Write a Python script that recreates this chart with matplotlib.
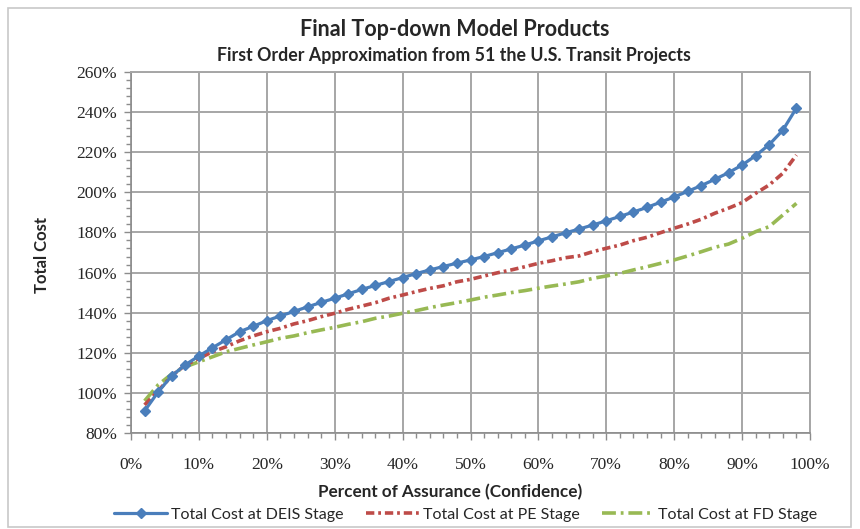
import matplotlib
matplotlib.use("Agg")
import matplotlib.pyplot as plt
from matplotlib.ticker import MultipleLocator, FuncFormatter
from matplotlib.patches import Rectangle

plt.rcParams['lines.scale_dashes'] = False

confidence = list(range(2, 100, 2))
deis = [91, 100.5, 108.5, 114, 118.4, 122.5, 126.5, 130.5, 133.2, 136,
        138.4, 140.6, 142.9, 145.1, 147.2, 149.4, 151.6, 153.6, 155.5, 157.5,
        159.5, 161.3, 163, 164.7, 166.3, 168, 169.9, 171.8, 173.7, 175.8,
        177.8, 179.8, 181.7, 183.7, 185.8, 188, 190.2, 192.5, 195.1, 197.7,
        200.5, 203.4, 206.5, 209.8, 213.6, 218.3, 223.8, 231, 242]
pe = [94, 101, 108.5, 113.9, 117.2, 120.5, 123, 126, 128.4, 130.5,
      132.2, 134.4, 136, 138, 139.7, 141.7, 143.3, 145, 147.2, 148.8,
      150.5, 152.1, 153.4, 155.4, 156.6, 158.3, 159.9, 161.3, 162.9, 164.6,
      165.9, 167.4, 168.3, 170.4, 172.1, 173.7, 175.9, 177.6, 179.9, 182.1,
      184.2, 186.6, 189.6, 192.1, 194.9, 199.5, 203.7, 209.5, 218.6]
fd = [96, 104, 109.4, 113, 115.5, 118, 120.5, 122.2, 123.9, 125.5,
      127.2, 128.4, 130, 131.4, 132.7, 134.2, 135.5, 137.2, 138.3, 139.7,
      141, 142.5, 143.8, 145, 146.3, 147.7, 148.8, 150, 151, 152.2,
      153.3, 154.3, 155.4, 157.1, 158.3, 159.6, 161.3, 162.9, 164.6, 166.3,
      168.3, 170.4, 172.6, 174.2, 177.1, 180.4, 182.9, 188.7, 194.5]

labels = ["Total Cost at DEIS Stage", "Total Cost at PE Stage", "Total Cost at FD Stage"]
title = "Final Top-down Model Products"
subtitle = "First Order Approximation from 51 the U.S. Transit Projects"
xlabel = "Percent of Assurance (Confidence)"
ylabel = "Total Cost"

W, H = 860, 529
fig = plt.figure(figsize=(W / 100, H / 100), dpi=100)
ax = fig.add_axes([131 / W, 1 - 433 / H, (810 - 131) / W, (433 - 72) / H])

blue, red, green = "#4a7ebb", "#be4b48", "#98b954"
ax.plot(confidence, deis, color=blue, lw=2.3, marker="D", ms=4.6,
        solid_capstyle="round", label=labels[0], zorder=4)
ax.plot(confidence, pe, color=red, lw=2.6, dashes=(6, 2.8, 2, 2.8),
        dash_capstyle="butt", label=labels[1], zorder=3)
ax.plot(confidence, fd, color=green, lw=2.6, dashes=(10, 3.5, 2, 3.5),
        dash_capstyle="butt", label=labels[2], zorder=2)

ax.set_xlim(0, 100)
ax.set_ylim(80, 260)
ax.xaxis.set_major_locator(MultipleLocator(10))
ax.xaxis.set_minor_locator(MultipleLocator(2))
ax.yaxis.set_major_locator(MultipleLocator(20))
ax.yaxis.set_minor_locator(MultipleLocator(4))
fmt = FuncFormatter(lambda v, p: f"{int(round(v))}%")
ax.xaxis.set_major_formatter(fmt)
ax.yaxis.set_major_formatter(fmt)
ax.grid(True, which="major", color="#a6a6a6", lw=1.4)
ax.set_axisbelow(True)
for s in ["top", "right"]:
    ax.spines[s].set_color("#a6a6a6")
    ax.spines[s].set_linewidth(1.4)
for s in ["left", "bottom"]:
    ax.spines[s].set_color("#8c8c8c")
    ax.spines[s].set_linewidth(1.2)
ax.tick_params(which="major", direction="out", length=5, color="#8c8c8c", width=1)
ax.tick_params(which="minor", direction="out", length=3.5, color="#8c8c8c", width=1)
for lab in ax.get_xticklabels() + ax.get_yticklabels():
    lab.set_fontfamily("Liberation Serif")
    lab.set_fontsize(12.5)
    lab.set_color("#262626")
ax.tick_params(axis="x", pad=12)
ax.tick_params(axis="y", pad=5)

fig.text(455 / W, 1 - 30 / H, title, ha="center", va="center",
         fontfamily="Lato", fontweight="bold", fontsize=15.5, color="#262626")
fig.text(454 / W, 1 - 55 / H, subtitle, ha="center", va="center",
         fontfamily="Lato", fontweight="bold", fontsize=12.8, color="#262626")
fig.text(450 / W, 1 - 492 / H, xlabel, ha="center", va="center",
         fontfamily="Lato", fontweight="bold", fontsize=12.3, color="#262626")
fig.text(42 / W, 1 - 255 / H, ylabel, ha="center", va="center", rotation=90,
         fontfamily="Lato", fontweight="bold", fontsize=12, color="#262626")

leg = fig.legend(loc="center", bbox_to_anchor=(466 / W, 1 - 515 / H), ncol=3,
                 frameon=False, prop={"family": "Lato", "size": 11.5},
                 handlelength=3.3, handletextpad=0.25, columnspacing=1.4)
for t in leg.get_texts():
    t.set_color("#262626")

fig.patches.append(Rectangle((8 / W, 2 / H), (851 - 8) / W, (521 - 2) / H,
                             transform=fig.transFigure, fill=False,
                             edgecolor="#c8c8c8", lw=1.2))

fig.savefig("out.png", dpi=100)
